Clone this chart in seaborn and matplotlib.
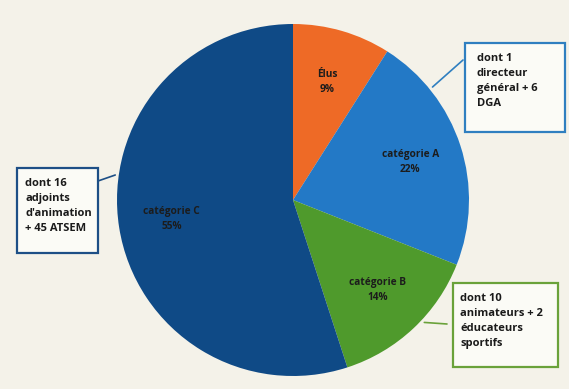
import matplotlib.pyplot as plt
import matplotlib.patches as mpatches
import numpy as np
import seaborn as sns

# Données
categories = ['Élus', 'catégorie A', 'catégorie B', 'catégorie C']
parts = [9, 22, 14, 55]
couleurs = ['#ee6a26', '#2379c6', '#4f9a2c', '#0f4a86']

notes = {
    'catégorie A': "dont 1\ndirecteur\ngénéral + 6\nDGA",
    'catégorie B': "dont 10\nanimateurs + 2\néducateurs\nsportifs",
    'catégorie C': "dont 16\nadjoints\nd'animation\n+ 45 ATSEM",
}

sns.set_theme(style='white')
plt.rcParams['font.family'] = ['Open Sans', 'DejaVu Sans']

W, H = 569, 389
fig = plt.figure(figsize=(W / 100, H / 100), dpi=100, facecolor='#f4f2e9')
ax = fig.add_axes([117 / W, 13 / H, 352 / W, 352 / H])
ax.set_facecolor('none')

labels_iter = iter(zip(categories, parts))


def etiquette(pct):
    nom, val = next(labels_iter)
    return f"{nom}\n{val}%"


wedges, _, autotexts = ax.pie(parts, colors=couleurs, startangle=90, counterclock=False,
                              autopct=etiquette, pctdistance=0.7, radius=1,
                              wedgeprops=dict(linewidth=0))
for t in autotexts:
    t.set_fontsize(7.3)
    t.set_fontweight('bold')
    t.set_color('#1c1c1c')
    t.set_linespacing(1.5)
ax.set_xlim(-1, 1)
ax.set_ylim(-1, 1)
ax.set_aspect('equal')
ax.axis('off')

# Encadrés (x0, y0 haut, x1, y1 bas) en pixels depuis le haut
boites = {
    'catégorie A': ((465, 43, 565, 132), '#2f7fc0', 39, 12),
    'catégorie B': ((453, 283, 558, 367), '#6aa23a', -43, 7),
    'catégorie C': ((17, 168, 98, 253), '#1d4f86', 172, 8),
}
ancrages = {'catégorie A': (463, 60), 'catégorie B': (447, 324), 'catégorie C': (98, 181)}

for nom, ((x0, y0, x1, y1), bord, ang, dx) in boites.items():
    rect = mpatches.Rectangle((x0 / W, 1 - y1 / H), (x1 - x0) / W, (y1 - y0) / H,
                              transform=fig.transFigure, facecolor='#fbfbf6',
                              edgecolor=bord, linewidth=1.6)
    fig.patches.append(rect)
    fig.text((x0 + dx) / W, 1 - (y0 + 10) / H, notes[nom], ha='left', va='top',
             fontsize=8.0, fontweight='bold', color='#1a1a1a', linespacing=1.5)
    a = np.deg2rad(ang)
    ax_pt = (1.02 * np.cos(a), 1.02 * np.sin(a))
    px, py = ancrages[nom]
    ax.annotate('', xy=ax_pt, xycoords='data', xytext=(px, H - py),
                textcoords='figure pixels',
                arrowprops=dict(arrowstyle='-', color=bord, lw=1.2, shrinkA=0, shrinkB=0),
                annotation_clip=False)

fig.savefig('out.png', dpi=100, facecolor=fig.get_facecolor())
